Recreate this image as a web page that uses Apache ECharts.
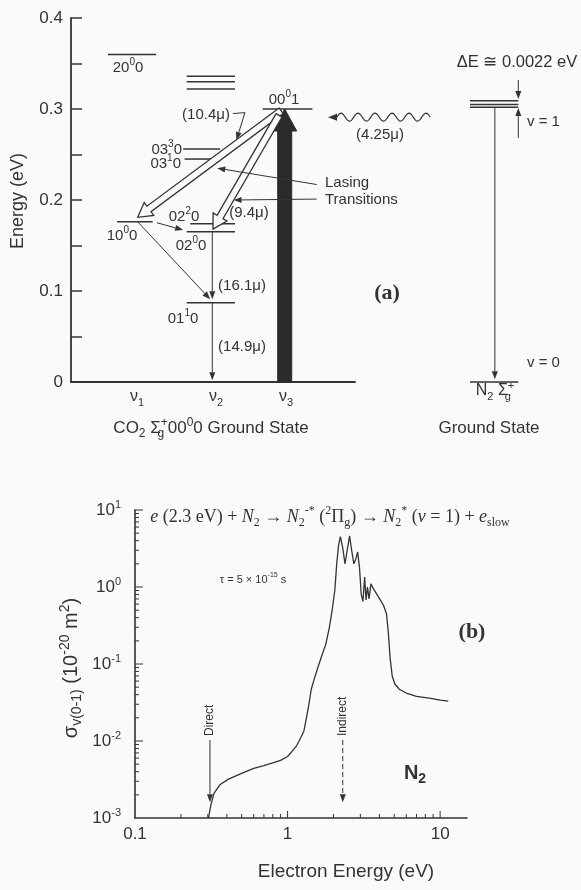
<!DOCTYPE html>
<html>
<head>
<meta charset="utf-8">
<title>CO2 laser levels / N2 vibrational cross section</title>
<script src="https://cdn.jsdelivr.net/npm/echarts@6/dist/echarts.min.js"></script>
<style>
  html, body { margin: 0; padding: 0; background: #fafafa; }
  #chart { width: 581px; height: 890px; }
</style>
</head>
<body>
<div id="chart"></div>
<script>
// ---------- (a) energy level diagram ----------
// CO2 levels (eV) and their span on the mode axis (v1 ~ 1, v2 ~ 2, v3 ~ 3)
const co2Energy = [0.360, 0.336, 0.330, 0.322, 0.300, 0.256, 0.245, 0.176, 0.174, 0.165, 0.087];
const co2Start  = [0.52, 1.63, 1.63, 1.63, 2.70, 1.58, 1.60, 0.65, 1.68, 1.63, 1.63];
const co2End    = [1.20, 2.31, 2.31, 2.31, 3.40, 2.10, 2.03, 1.15, 2.31, 2.31, 2.31];
// N2 levels: v = 1 (three close lines) and v = 0
const n2Energy = [0.309, 0.305, 0.302, 0];
const n2Start = [5.62, 5.62, 5.62, 5.62];
const n2End   = [6.30, 6.30, 6.30, 6.30];

// pumping: 00^0 0 -> 00^0 1
const pumpFrom = [3.01, 0];
const pumpTo   = [3.01, 0.300];
// lasing transitions 10.4 um and 9.4 um (hollow arrows)
const laserFrom = [[2.96, 0.298], [2.93, 0.293]];
const laserTo   = [[0.94, 0.181], [2.00, 0.168]];
// thin transitions (relaxation, N2 decay, delta E markers)
const thinFrom = [[1.21, 0.175], [0.94, 0.176], [1.99, 0.165], [1.99, 0.087], [5.97, 0.301], [6.30, 0.332], [6.30, 0.268]];
const thinTo   = [[1.58, 0.167], [1.96, 0.091], [1.99, 0.091], [1.99, 0.002], [5.97, 0.003], [6.30, 0.311], [6.30, 0.301]];
// leader lines of the annotations
const leaders = [
  [[2.28, 0.295], [2.45, 0.296], [2.33, 0.266]],
  [[3.46, 0.217], [2.06, 0.235]],
  [[3.46, 0.201], [2.29, 0.200]]
];
// collisional transfer N2 -> CO2 (wavy arrow, 4.25 um)
const wavyFrom = [5.06, 0.291];
const wavyTo   = [3.62, 0.291];

// ---------- (b) N2 vibrational excitation cross section ----------
const electronE = [0.303, 0.315, 0.33, 0.36, 0.41, 0.5, 0.6, 0.7, 0.8, 0.9, 1.0, 1.08, 1.15, 1.22, 1.28,
  1.33, 1.38, 1.43, 1.5, 1.58, 1.68, 1.78, 1.88, 1.96, 2.04, 2.1, 2.16, 2.22, 2.3, 2.38, 2.46, 2.55, 2.63,
  2.72, 2.8, 2.88, 2.96, 3.04, 3.12, 3.2, 3.27, 3.34, 3.42, 3.52, 3.65, 3.85, 4.05, 4.25, 4.45, 4.58, 4.7,
  4.85, 5.05, 5.4, 6.0, 7.0, 8.5, 10.0, 11.3];
const sigma = [0.001, 0.0015, 0.0021, 0.0027, 0.0032, 0.0038, 0.0044, 0.0048, 0.0052, 0.0056, 0.0063,
  0.0075, 0.0088, 0.011, 0.0135, 0.02, 0.03, 0.047, 0.065, 0.09, 0.13, 0.18, 0.3, 0.5, 0.9, 2.0, 3.5, 4.5,
  3.2, 2.0, 3.0, 4.6, 3.0, 2.0, 2.3, 2.85, 1.8, 0.8, 0.65, 1.35, 0.68, 1.0, 0.7, 1.1, 0.95, 0.8, 0.68, 0.58,
  0.45, 0.25, 0.12, 0.07, 0.055, 0.047, 0.042, 0.038, 0.036, 0.034, 0.033];
const thresholdE = [0.31, 2.3];              // Direct, Indirect
const thresholdName = ['Direct', 'Indirect'];
const markerTop = 0.0103, markerTip = 0.0016;

// log axis tick marks
const minorMult = [2, 3, 4, 5, 6, 7, 8, 9];
const xTicks = [], yTicks = [];
[0.1, 1].forEach(d => { minorMult.forEach(m => xTicks.push([m * d, 0])); xTicks.push([d * 10, 1]); });
[0.001, 0.01, 0.1, 1].forEach(d => { minorMult.forEach(m => yTicks.push([m * d, 0])); yTicks.push([d * 10, 1]); });

const ink = '#333';
const sans = "'Liberation Sans', Arial, Helvetica, sans-serif";
const serif = "'Liberation Serif', 'Times New Roman', serif";

// i: italic, u: superscript, d: subscript, z: subscript with no advance (stacks under the next sup)
function richFor(size, family, weight) {
  const s = Math.round(size * 0.68);
  const base = { fontFamily: family, fontWeight: weight, fill: ink, color: ink };
  return {
    i: Object.assign({}, base, { fontSize: size, fontStyle: 'italic' }),
    u: Object.assign({}, base, { fontSize: s, verticalAlign: 'top' }),
    d: Object.assign({}, base, { fontSize: s, verticalAlign: 'bottom' }),
    z: Object.assign({}, base, { fontSize: s, verticalAlign: 'bottom', width: 0 })
  };
}

function txt(x, y, text, size, opt) {
  opt = opt || {};
  const family = opt.family || sans, weight = opt.weight || 'normal';
  return {
    type: 'text', x: x, y: y, rotation: opt.rotation || 0, silent: true,
    style: {
      text: text, fill: ink, fontSize: size, fontFamily: family, fontWeight: weight,
      lineHeight: size + 6, align: opt.align || 'center', verticalAlign: 'middle',
      rich: richFor(size, family, weight)
    }
  };
}

function headOf(p0, p1, hl, hw) {
  const dx = p1[0] - p0[0], dy = p1[1] - p0[1], L = Math.hypot(dx, dy) || 1;
  const ux = dx / L, uy = dy / L;
  const bx = p1[0] - ux * hl, by = p1[1] - uy * hl;
  return { base: [bx, by], ux: ux, uy: uy,
    pts: [[p1[0], p1[1]], [bx - uy * hw, by + ux * hw], [bx + uy * hw, by - ux * hw]] };
}

function thinArrow(pts, dash) {
  const n = pts.length;
  const h = headOf(pts[n - 2], pts[n - 1], 8, 3);
  const line = pts.slice(0, n - 1).concat([h.base]);
  return { type: 'group', children: [
    { type: 'polyline', shape: { points: line }, style: { stroke: ink, lineWidth: 1, fill: null, lineDash: dash || null } },
    { type: 'polygon', shape: { points: h.pts }, style: { fill: ink } }
  ] };
}

function fatArrow(p0, p1, w, hw, hl) {
  const h = headOf(p0, p1, hl, hw);
  const nx = -h.uy, ny = h.ux, b = h.base;
  return [
    [p0[0] + nx * w, p0[1] + ny * w], [b[0] + nx * w, b[1] + ny * w], [b[0] + nx * hw, b[1] + ny * hw],
    [p1[0], p1[1]],
    [b[0] - nx * hw, b[1] - ny * hw], [b[0] - nx * w, b[1] - ny * w], [p0[0] - nx * w, p0[1] - ny * w]
  ];
}

function segData(from, to) {
  return from.map((p, i) => [p[0], p[1], to[i][0], to[i][1]]);
}

const panelA = { xAxisIndex: 0, yAxisIndex: 0, type: 'custom', coordinateSystem: 'cartesian2d', clip: false, silent: true };
const panelB = { xAxisIndex: 1, yAxisIndex: 1, type: 'custom', coordinateSystem: 'cartesian2d', clip: false, silent: true };

function levelItem(params, api) {
  const a = api.coord([api.value(0), api.value(1)]);
  const b = api.coord([api.value(2), api.value(1)]);
  return { type: 'line', shape: { x1: a[0], y1: a[1], x2: b[0], y2: b[1] }, style: { stroke: ink, lineWidth: 1.5 } };
}

const graphic = [
  // axis names
  txt(18, 201, 'Energy (eV)', 18, { rotation: Math.PI / 2 }),
  txt(71, 668, 'σ{d|v(0-1)} (10{u|-20} m{u|2})', 20, { rotation: Math.PI / 2 }),
  txt(346, 872, 'Electron Energy (eV)', 19),
  // level labels
  txt(128, 68, '20{u|0}0', 15),
  txt(284, 100, '00{u|0}1', 15),
  txt(182, 150, '03{u|3}0', 15, { align: 'right' }),
  txt(181, 164, '03{u|1}0', 15, { align: 'right' }),
  txt(122, 236, '10{u|0}0', 15),
  txt(184, 217, '02{u|2}0', 15),
  txt(191, 246, '02{u|0}0', 15),
  txt(183, 319, '01{u|1}0', 15),
  // wavelengths
  txt(206, 115, '(10.4μ)', 15),
  txt(249, 213, '(9.4μ)', 15),
  txt(242, 286, '(16.1μ)', 15),
  txt(242, 347, '(14.9μ)', 15),
  txt(380, 135, '(4.25μ)', 15),
  txt(325, 183, 'Lasing', 15, { align: 'left' }),
  txt(325, 200, 'Transitions', 15, { align: 'left' }),
  txt(387, 293, '(a)', 22, { family: serif, weight: 'bold' }),
  // N2 side
  txt(517, 62, 'ΔE ≅ 0.0022 eV', 16.5),
  txt(527, 122, 'v = 1', 15, { align: 'left' }),
  txt(527, 363, 'v = 0', 15, { align: 'left' }),
  txt(495, 391, 'N{d|2} Σ{z|g}{u|+}', 16),
  // mode labels and states
  txt(137, 397, 'ν{d|1}', 16),
  txt(216, 397, 'ν{d|2}', 16),
  txt(286, 397, 'ν{d|3}', 16),
  txt(211, 428, 'CO{d|2} Σ{z|g}{u|+}00{u|0}0 Ground State', 17),
  txt(489, 428, 'Ground State', 17),
  // panel (b)
  txt(330, 517, '{i|e} (2.3 eV) + {i|N}{d|2} → {i|N}{d|2}{u|-*} ({u|2}Π{d|g}) → {i|N}{d|2}{u|*} ({i|v} = 1) + {i|e}{d|slow}', 18, { family: serif }),
  txt(253, 580, 'τ = 5 × 10{u|-15} s', 11),
  txt(472, 632, '(b)', 22, { family: serif, weight: 'bold' }),
  txt(415, 773, 'N{d|2}', 20, { weight: 'bold' })
];

const option = {
  animation: false,
  backgroundColor: '#fafafa',
  textStyle: { fontFamily: sans, color: ink },
  grid: [
    { left: 71, top: 18, width: 284, height: 364, containLabel: false, outerBoundsMode: 'none' },
    { left: 135, top: 510, width: 332, height: 308, containLabel: false, outerBoundsMode: 'none' }
  ],
  xAxis: [
    { gridIndex: 0, type: 'value', min: 0, max: 4,
      axisLine: { show: true, onZero: false, lineStyle: { color: ink, width: 1.8 } },
      axisTick: { show: false }, axisLabel: { show: false }, splitLine: { show: false } },
    { gridIndex: 1, type: 'log', logBase: 10, min: 0.1, max: 15, splitNumber: 2,
      axisLine: { show: true, onZero: false, lineStyle: { color: ink, width: 1.6 } },
      axisTick: { show: false }, splitLine: { show: false }, minorSplitLine: { show: false },
      axisLabel: { color: ink, fontSize: 17, margin: 8, showMaxLabel: false,
        formatter: v => {
          const e = Math.log10(v);
          return Math.abs(e - Math.round(e)) < 1e-6 ? String(+v.toPrecision(3)) : '';
        } } }
  ],
  yAxis: [
    { gridIndex: 0, type: 'value', min: 0, max: 0.4, interval: 0.1,
      axisLine: { show: true, onZero: false, lineStyle: { color: ink, width: 1.8 } },
      axisTick: { show: true, inside: true, length: 11, lineStyle: { color: ink, width: 1.5 } },
      minorTick: { show: true, splitNumber: 2, length: 11, lineStyle: { color: ink, width: 1.5 } },
      splitLine: { show: false },
      axisLabel: { color: ink, fontSize: 17, margin: 8, formatter: v => (v === 0 ? '0' : v.toFixed(1)) } },
    { gridIndex: 1, type: 'log', logBase: 10, min: 0.001, max: 10, splitNumber: 4,
      axisLine: { show: true, onZero: false, lineStyle: { color: ink, width: 1.6 } },
      axisTick: { show: false }, splitLine: { show: false },
      axisLabel: { color: ink, fontSize: 17, margin: 14, lineHeight: 22,
        formatter: v => '10{u|' + Math.round(Math.log10(v)) + '}',
        rich: { u: { fontSize: 11, verticalAlign: 'top', color: ink } } } }
  ],
  series: [
    // ---------- (a) ----------
    Object.assign({}, panelA, { name: 'CO2 levels', data: co2Energy.map((e, i) => [co2Start[i], e, co2End[i]]), renderItem: levelItem }),
    Object.assign({}, panelA, { name: 'N2 levels', data: n2Energy.map((e, i) => [n2Start[i], e, n2End[i]]), renderItem: levelItem }),
    Object.assign({}, panelA, {
      name: 'thin transitions', data: segData(thinFrom, thinTo),
      renderItem: (params, api) => thinArrow([api.coord([api.value(0), api.value(1)]), api.coord([api.value(2), api.value(3)])])
    }),
    Object.assign({}, panelA, {
      name: 'pump', data: segData([pumpFrom], [pumpTo]),
      renderItem: (params, api) => ({ type: 'polygon',
        shape: { points: fatArrow(api.coord([api.value(0), api.value(1)]), api.coord([api.value(2), api.value(3)]), 7, 12, 22) },
        style: { fill: '#2b2b2b', stroke: '#2b2b2b', lineWidth: 1 } })
    }),
    Object.assign({}, panelA, {
      name: 'lasing', data: segData(laserFrom, laserTo),
      renderItem: (params, api) => ({ type: 'polygon',
        shape: { points: fatArrow(api.coord([api.value(0), api.value(1)]), api.coord([api.value(2), api.value(3)]), 3.4, 8, 14) },
        style: { fill: '#fafafa', stroke: ink, lineWidth: 1.3 } })
    }),
    Object.assign({}, panelA, {
      name: 'leaders', data: leaders.map((pts, i) => [pts[0][0], pts[0][1], i]),
      renderItem: (params, api) => thinArrow(leaders[api.value(2)].map(p => api.coord(p)))
    }),
    Object.assign({}, panelA, {
      name: 'collisional transfer', data: segData([wavyFrom], [wavyTo]),
      renderItem: (params, api) => {
        const a = api.coord([api.value(0), api.value(1)]);
        const b = api.coord([api.value(2), api.value(3)]);
        const dir = Math.sign(b[0] - a[0]), hl = 9, L = Math.abs(b[0] - a[0]) - hl;
        const pts = [];
        for (let t = 0; t <= L; t += 1) pts.push([a[0] + dir * t, a[1] - 4 * Math.sin(2 * Math.PI * t / 17)]);
        const end = pts[pts.length - 1];
        return { type: 'group', children: [
          { type: 'polyline', shape: { points: pts.concat([[end[0] + dir * 2, b[1]]]) }, style: { stroke: ink, lineWidth: 1.2, fill: null } },
          { type: 'polygon', shape: { points: [[b[0], b[1]], [b[0] - dir * hl, b[1] - 3.5], [b[0] - dir * hl, b[1] + 3.5]] }, style: { fill: ink } }
        ] };
      }
    }),
    // ---------- (b) ----------
    {
      name: 'sigma v(0-1)', type: 'line', xAxisIndex: 1, yAxisIndex: 1,
      data: electronE.map((e, i) => [e, sigma[i]]),
      showSymbol: false, symbol: 'none', smooth: false, silent: true,
      lineStyle: { color: ink, width: 1.3 }
    },
    Object.assign({}, panelB, {
      name: 'x ticks', data: xTicks,
      renderItem: (params, api) => {
        const p = api.coord([api.value(0), 0.001]);
        const len = api.value(1) ? 7 : 4;
        return { type: 'line', shape: { x1: p[0], y1: p[1], x2: p[0], y2: p[1] - len }, style: { stroke: ink, lineWidth: 1 } };
      }
    }),
    Object.assign({}, panelB, {
      name: 'y ticks', data: yTicks.map(t => [0.1, t[0], t[1]]),
      renderItem: (params, api) => {
        const p = api.coord([0.1, api.value(1)]);
        const len = api.value(2) ? 8 : 4;
        return { type: 'line', shape: { x1: p[0], y1: p[1], x2: p[0] + len, y2: p[1] }, style: { stroke: ink, lineWidth: 1 } };
      }
    }),
    Object.assign({}, panelB, {
      name: 'thresholds', data: thresholdE.map((e, i) => [e, markerTop, i]),
      renderItem: (params, api) => {
        const i = api.value(2);
        const a = api.coord([api.value(0), markerTop]);
        const b = api.coord([api.value(0), markerTip]);
        return { type: 'group', children: [
          thinArrow([a, b], i === 1 ? [5, 3] : null),
          { type: 'text', x: a[0], y: a[1] - 4, rotation: Math.PI / 2,
            style: { text: thresholdName[i], fill: ink, fontSize: 12, fontFamily: sans, align: 'left', verticalAlign: 'middle' } }
        ] };
      }
    })
  ],
  graphic: graphic
};

const chart = echarts.init(document.getElementById('chart'));
chart.setOption(option);
</script>
</body>
</html>
